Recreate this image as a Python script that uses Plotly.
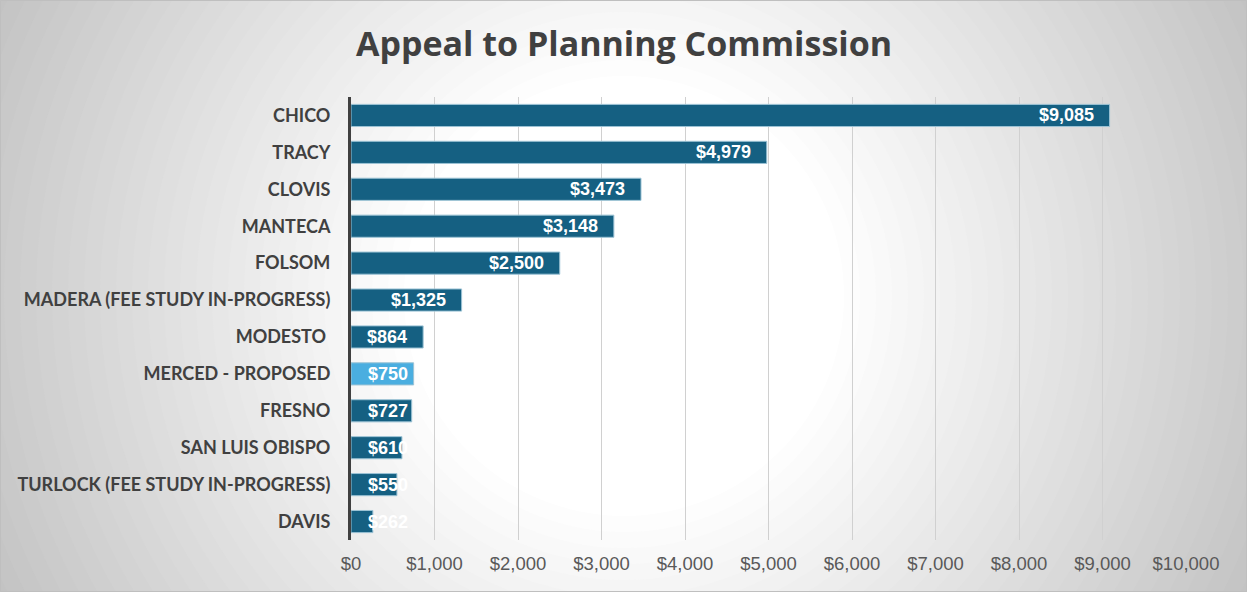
import plotly.graph_objects as go

cities = ["CHICO", "TRACY", "CLOVIS", "MANTECA", "FOLSOM",
          "MADERA (FEE STUDY IN-PROGRESS)", "MODESTO\u00a0", "MERCED - PROPOSED",
          "FRESNO", "SAN LUIS OBISPO", "TURLOCK (FEE STUDY IN-PROGRESS)", "DAVIS"]
fees = [9085, 4979, 3473, 3148, 2500, 1325, 864, 750, 727, 610, 550, 262]
highlight = "MERCED - PROPOSED"
tick_vals = [0, 1000, 2000, 3000, 4000, 5000, 6000, 7000, 8000, 9000, 10000]
tick_text = ["$0", "$1,000", "$2,000", "$3,000", "$4,000", "$5,000",
             "$6,000", "$7,000", "$8,000", "$9,000", "$10,000"]

W, H = 1247, 592
ML, MR, MT, MB = 351, 61, 97, 52
PW, PH = W - ML - MR, H - MT - MB
XMAX = 10000

DARK = "#156082"
LIGHT = "#4AAEE0"
colors = [LIGHT if c == highlight else DARK for c in cities]
labels = ["${:,}".format(v) for v in fees]


def px2x(px):
    return (px - ML) / PW


def px2y(py):
    return 1 - (py - MT) / PH


fig = go.Figure()
fig.add_trace(go.Bar(
    y=cities, x=fees, orientation="h",
    marker=dict(color=colors, line=dict(color="#9cc3d5", width=1)),
    hoverinfo="x+y",
))

# background radial gradient
shapes = []
cx, cy = 624, 296
n = 30
r_out, r_in = 700, 220
for i in range(n + 1):
    r = r_out - (r_out - r_in) * i / n
    t = max(0.0, min(1.0, (r - r_in) / (r_out - r_in)))
    g = int(round(255 - 60 * t))
    col = "rgb({0},{0},{0})".format(g)
    shapes.append(dict(type="circle", xref="paper", yref="paper", layer="below",
                       x0=px2x(cx - r), x1=px2x(cx + r),
                       y0=px2y(cy + r), y1=px2y(cy - r),
                       fillcolor=col, line=dict(width=0)))
shapes.append(dict(type="rect", xref="paper", yref="paper", layer="below",
                   x0=px2x(0.5), x1=px2x(W - 0.5), y0=px2y(H - 0.5), y1=px2y(0.5),
                   line=dict(color="#bfbfbf", width=1), fillcolor="rgba(0,0,0,0)"))

# data labels (inside end, clamped to base)
FS = 18
annotations = []
ppu = PW / XMAX
for c, v, lab in zip(cities, fees, labels):
    w = FS * (0.556 * sum(ch.isdigit() or ch == "$" for ch in lab) + 0.278 * lab.count(","))
    font = dict(family="Liberation Sans, Arial", size=FS, color="white")
    if v * ppu - 14 - w < 15:
        annotations.append(dict(x=0, y=c, xref="x", yref="y", text="<b>" + lab + "</b>",
                                showarrow=False, xanchor="left", xshift=15, font=font))
    else:
        annotations.append(dict(x=v, y=c, xref="x", yref="y", text="<b>" + lab + "</b>",
                                showarrow=False, xanchor="right", xshift=-14, font=font))

fig.update_layout(
    width=W, height=H,
    margin=dict(l=ML, r=MR, t=MT, b=MB),
    paper_bgcolor="rgb(195,195,195)",
    plot_bgcolor="rgba(0,0,0,0)",
    shapes=shapes,
    annotations=annotations,
    bargap=0.4,
    showlegend=False,
    title=dict(text="<b>Appeal to Planning Commission</b>", x=624 / W, xanchor="center",
               y=1 - 44 / H, yanchor="middle",
               font=dict(family="Open Sans", size=34, color="#404040")),
    xaxis=dict(range=[0, XMAX], tickvals=tick_vals, ticktext=tick_text,
               showgrid=True, gridcolor="#d0d0d0", gridwidth=1, zeroline=False,
               showline=False, ticks="", ticklabelstandoff=10,
               tickfont=dict(family="Liberation Sans, Arial", size=18.5, color="#595959"),
               fixedrange=True),
    yaxis=dict(autorange="reversed", showgrid=False, zeroline=False,
               showline=True, linecolor="#404040", linewidth=3, ticks="",
               ticklabelstandoff=14,
               tickfont=dict(family="Lato", size=18, color="#404040"),
               fixedrange=True),
)
fig.update_yaxes(tickprefix="<b>", ticksuffix="</b>")

fig.write_html("out.html", config={"displayModeBar": False},
               post_script="document.body.style.margin='0';document.body.style.padding='0';")
